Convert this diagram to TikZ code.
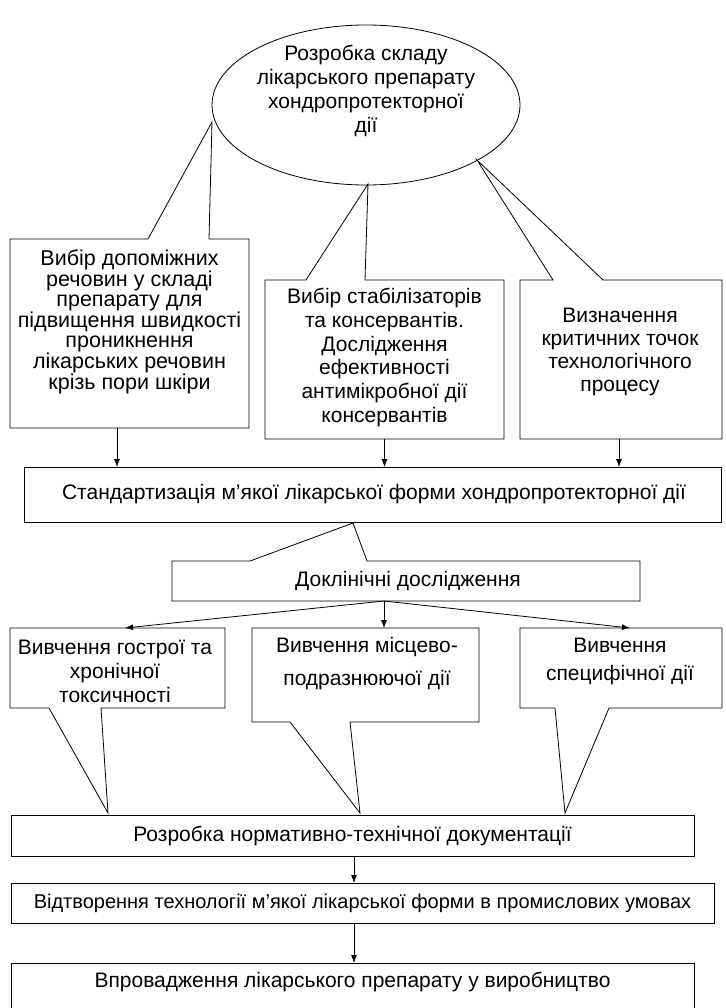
\documentclass[tikz,border=0pt]{standalone}
\usepackage{fontspec}
\setmainfont{Liberation Sans}
\usetikzlibrary{shapes.geometric, arrows.meta}

\tikzset{
  txt/.style={align=center, inner sep=0pt, font=\fontsize{21}{#1}\selectfont},
  txt/.default=24,
  frame/.style={draw, line width=0.8pt, inner sep=0pt, outer sep=0pt},
  hole/.style={inner sep=0pt, outer sep=0pt},
  callout/.style={draw, line width=0.8pt, line join=miter},
  arr/.style={-{Latex[length=8pt, width=6pt]}, line width=0.8pt},
}

\begin{document}
\begin{tikzpicture}[x=1pt, y=-1pt]
\useasboundingbox (0,0) rectangle (725,1008);

%% верхній еліпс
\node[frame, ellipse, minimum width=308, minimum height=160] (rozr) at (366,105) {};
\node[txt] (rozrtxt) at (366,91) {Розробка складу\\лікарського препарату\\хондропротекторної\\дії};

%% три виноски під еліпсом
\node[hole, minimum width=239, minimum height=189] (dopom) at (129.5,333.5) {};
\node[hole, minimum width=239, minimum height=159] (stab) at (384.5,359.5) {};
\node[hole, minimum width=202, minimum height=159] (krit) at (621,359.5) {};
\coordinate (dopomtip) at (212,122);
\coordinate (stabtip) at (368,184);
\coordinate (krittip) at (477,160);
\draw[callout] (dopom.north west) -- ([xshift=138]dopom.north west) -- (dopomtip) -- ([xshift=199]dopom.north west)
  -- (dopom.north east) -- (dopom.south east) -- (dopom.south west) -- cycle;%виноска 1
\draw[callout] (stab.north west) -- ([xshift=41]stab.north west) -- (stabtip) -- ([xshift=100]stab.north west)
  -- (stab.north east) -- (stab.south east) -- (stab.south west) -- cycle;%виноска 2
\draw[callout] (krit.north west) -- ([xshift=33]krit.north west) -- (krittip) -- ([xshift=83]krit.north west)
  -- (krit.north east) -- (krit.south east) -- (krit.south west) -- cycle;%виноска 3
\node[txt=20, font=\fontsize{21.5}{20}\selectfont] (dopomtxt) at (129.5,322) {Вибір допоміжних\\речовин у складі\\препарату для\\підвищення швидкості\\проникнення\\лікарських речовин\\крізь пори шкіри};
\node[txt=23.8] (stabtxt) at (384.5,357.5) {Вибір стабілізаторів\\та консервантів.\\Дослідження\\ефективності\\антимікробної дії\\консервантів};
\node[txt=23.3] (krittxt) at (620,352) {Визначення\\критичних точок\\технологічного\\процесу};

%% стандартизація
\node[frame, minimum width=697, minimum height=55] (stand) at (372.5,494.5) {};
\node[txt] (standtxt) at (374,494) {Стандартизація м’якої лікарської форми хондропротекторної дії};
\draw[arr] ([xshift=-12.5]dopom.south) -- ([xshift=-12.5]dopom.south |- stand.north);
\draw[arr] (stab.south) -- (stab.south |- stand.north);
\draw[arr] ([xshift=-2]krit.south) -- ([xshift=-2]krit.south |- stand.north);

%% доклінічні дослідження
\node[hole, minimum width=468, minimum height=40] (dokl) at (406,581) {};
\coordinate (dokltip) at (353,523);
\draw[callout] (dokl.north west) -- ([xshift=78]dokl.north west) -- (dokltip) -- ([xshift=195]dokl.north west)
  -- (dokl.north east) -- (dokl.south east) -- (dokl.south west) -- cycle;
\node[txt] (dokltxt) at (408,581) {Доклінічні дослідження};

%% три вивчення
\node[hole, minimum width=215, minimum height=80] (tox) at (117.5,668) {};
\node[hole, minimum width=227, minimum height=94] (mists) at (365.5,675) {};
\node[hole, minimum width=202, minimum height=80] (spec) at (621,668) {};
\coordinate (toxtip) at (108,813);
\coordinate (miststip) at (360,813);
\coordinate (spectip) at (565,813);
\draw[callout] (tox.south west) -- ([xshift=39]tox.south west) -- (toxtip) -- ([xshift=91]tox.south west)
  -- (tox.south east) -- (tox.north east) -- (tox.north west) -- cycle;
\draw[callout] (mists.south west) -- ([xshift=38]mists.south west) -- (miststip) -- ([xshift=98]mists.south west)
  -- (mists.south east) -- (mists.north east) -- (mists.north west) -- cycle;
\draw[callout] (spec.south west) -- ([xshift=35]spec.south west) -- (spectip) -- ([xshift=89]spec.south west)
  -- (spec.south east) -- (spec.north east) -- (spec.north west) -- cycle;
\node[txt] (toxtxt) at (115,671) {Вивчення гострої та\\хронічної\\токсичності};
\node[txt=33] (miststxt) at (367,663.5) {Вивчення місцево-\\подразнюючої дії};
\node[txt=28] (spectxt) at (620,661) {Вивчення\\специфічної дії};

\coordinate (split) at ([xshift=-22]dokl.south);
\draw[arr] (split) -- ([xshift=7.5]tox.north);
\draw[arr] (split) -- (split |- mists.north);
\draw[arr] (split) -- ([xshift=9]spec.north);

%% нижній ланцюжок
\node[frame, minimum width=683, minimum height=41] (norm) at (352.5,835.5) {};
\node[frame, minimum width=703, minimum height=40] (vidtv) at (362.5,903) {};
\node[frame, minimum width=683, minimum height=49] (vprov) at (352.5,987.5) {};
\node[txt] (normtxt) at (352.5,835.5) {Розробка нормативно-технічної документації};
\node[txt, font=\fontsize{20}{24}\selectfont] (vidtvtxt) at (362.5,903) {Відтворення технології м’якої лікарської форми в промислових умовах};
\node[txt] (vprovtxt) at (352.5,982) {Впровадження лікарського препарату у виробництво};
\draw[arr] ([xshift=1.5]norm.south) -- ([xshift=1.5]norm.south |- vidtv.north);
\draw[arr] ([xshift=1.5]norm.south |- vidtv.south) -- ([xshift=1.5]norm.south |- vprov.north);

\end{tikzpicture}
\end{document}
